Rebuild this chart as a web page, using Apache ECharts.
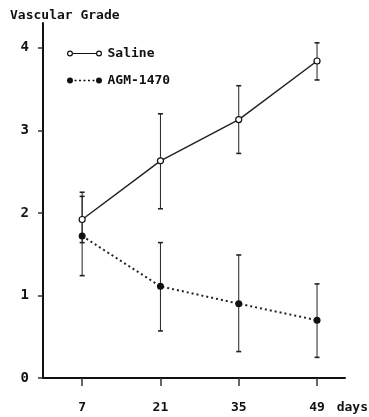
<!DOCTYPE html>
<html><head><meta charset="utf-8">
<script src="https://cdn.jsdelivr.net/npm/echarts@6/dist/echarts.min.js"></script>
<style>html,body{margin:0;padding:0;background:#fff}#c{width:369px;height:417px}</style>
</head><body><div id="c"></div>
<script>
var days = [7, 21, 35, 49];
var xTicks = [7, 21, 35, 49];
var yTicks = [0, 1, 2, 3, 4];
var salineMean = [1.92, 2.63, 3.13, 3.84];
var salineLow = [1.64, 2.05, 2.72, 3.61];
var salineHigh = [2.25, 3.20, 3.54, 4.06];
var agmMean = [1.72, 1.11, 0.90, 0.70];
var agmLow = [1.24, 0.57, 0.32, 0.25];
var agmHigh = [2.20, 1.64, 1.49, 1.14];

var FONT = "'DejaVu Sans Mono','Liberation Mono',monospace";

function pts(m){ return days.map(function(d,i){ return [d, m[i]]; }); }
function errs(lo, hi){ return days.map(function(d,i){ return [d, lo[i], hi[i]]; }); }

function renderErr(params, api){
  var x = api.value(0);
  var lo = api.coord([x, api.value(1)]);
  var hi = api.coord([x, api.value(2)]);
  var w = 2.5;
  var st = {stroke:'#222', lineWidth:1};
  var cs = {stroke:'#222', lineWidth:1.6};
  return {type:'group', children:[
    {type:'line', shape:{x1:lo[0],y1:lo[1],x2:hi[0],y2:hi[1]}, style:st},
    {type:'line', shape:{x1:lo[0]-w,y1:lo[1],x2:lo[0]+w,y2:lo[1]}, style:cs},
    {type:'line', shape:{x1:hi[0]-w,y1:hi[1],x2:hi[0]+w,y2:hi[1]}, style:cs}
  ]};
}

var salIcon = 'path://M0.5,4A3,3 0 1,1 6.5,4A3,3 0 1,1 0.5,4ZM1.7,4A1.8,1.8 0 1,0 5.3,4A1.8,1.8 0 1,0 1.7,4ZM6.5,3.4L29.5,3.4L29.5,4.6L6.5,4.6ZM29.5,4A3,3 0 1,1 35.5,4A3,3 0 1,1 29.5,4ZM30.7,4A1.8,1.8 0 1,0 34.3,4A1.8,1.8 0 1,0 30.7,4Z';
var agmIcon = 'path://M0.5,4A3,3 0 1,1 6.5,4A3,3 0 1,1 0.5,4ZM8,3.3L10,3.3L10,4.7L8,4.7ZM12.5,3.3L14.5,3.3L14.5,4.7L12.5,4.7ZM17,3.3L19,3.3L19,4.7L17,4.7ZM21.5,3.3L23.5,3.3L23.5,4.7L21.5,4.7ZM26,3.3L28,3.3L28,4.7L26,4.7ZM29.5,4A3,3 0 1,1 35.5,4A3,3 0 1,1 29.5,4Z';

var chart = echarts.init(document.getElementById('c'), null, {renderer:'canvas'});
chart.setOption({
  animation:false,
  backgroundColor:'#fff',
  title:{text:'Vascular Grade', left:10, top:9, padding:0, textStyle:{fontFamily:FONT, fontWeight:'bold', fontSize:13, color:'#111'}},
  grid:{left:43, right:24, top:23, bottom:39, outerBoundsMode:'none'},
  legend:{
    orient:'vertical', left:67, top:47, padding:0, itemWidth:36, itemHeight:6, itemGap:14,
    textStyle:{fontFamily:FONT, fontWeight:'bold', fontSize:13, color:'#111'},
    data:[
      {name:'Saline', icon:salIcon, itemStyle:{color:'#111', borderWidth:0}},
      {name:'AGM-1470', icon:agmIcon, itemStyle:{color:'#111', borderWidth:0}}
    ]
  },
  xAxis:{type:'value', min:0, max:54,
    axisLine:{lineStyle:{color:'#111', width:2}},
    axisTick:{customValues:xTicks, length:8, inside:false, lineStyle:{color:'#333', width:1.5}},
    axisLabel:{customValues:xTicks, margin:23, color:'#111', fontFamily:FONT, fontWeight:'bold', fontSize:13},
    splitLine:{show:false}},
  yAxis:{type:'value', min:0, max:4.3,
    axisLine:{show:true, lineStyle:{color:'#111', width:2}},
    axisTick:{show:true, customValues:yTicks, length:5, lineStyle:{color:'#333', width:1.5}},
    axisLabel:{customValues:yTicks, margin:14, color:'#111', fontFamily:FONT, fontWeight:'bold', fontSize:14},
    splitLine:{show:false}},
  graphic:[{type:'text', right:1, top:401, style:{text:'days', fontFamily:FONT, fontWeight:'bold', fontSize:13, fill:'#111'}}],
  series:[
    {type:'custom', name:'SalineErr', renderItem:renderErr, data:errs(salineLow, salineHigh), z:1, silent:true},
    {type:'custom', name:'AGMErr', renderItem:renderErr, data:errs(agmLow, agmHigh), z:1, silent:true},
    {type:'line', name:'Saline', data:pts(salineMean), z:3, symbol:'circle', symbolSize:6,
      lineStyle:{color:'#222', width:1.5}, itemStyle:{color:'#fff', borderColor:'#111', borderWidth:1.2}},
    {type:'line', name:'AGM-1470', data:pts(agmMean), z:3, symbol:'circle', symbolSize:7,
      lineStyle:{color:'#222', width:2, type:[2,3]}, itemStyle:{color:'#111', borderColor:'#111', borderWidth:0}}
  ]
});
</script></body></html>
